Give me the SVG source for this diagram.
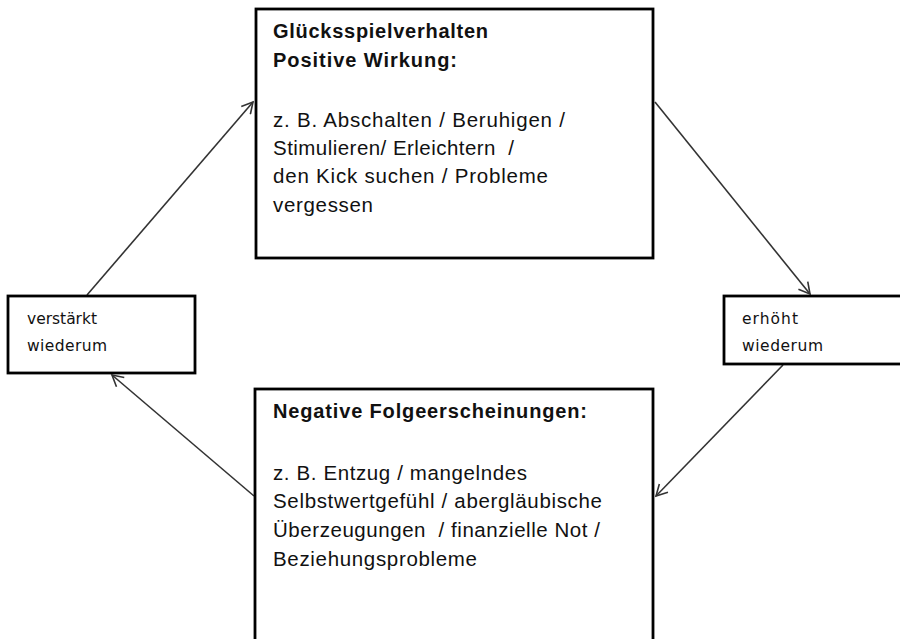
<svg xmlns="http://www.w3.org/2000/svg" width="900" height="639" viewBox="0 0 900 639">
<style>
.box{fill:#fff;stroke:#000;stroke-width:2.8}
.t{font-family:"Liberation Sans",Arial,sans-serif;font-size:20.5px;fill:#111}
.b{font-weight:bold;font-size:20px}
.s{font-family:"DejaVu Sans",Tahoma,sans-serif;font-size:15.5px;fill:#111}
.c{stroke:#333;stroke-width:1.6;fill:none;marker-end:url(#arr)}
</style>
<defs>
<marker id="arr" markerUnits="userSpaceOnUse" markerWidth="14" markerHeight="14" refX="12" refY="7" orient="auto">
<path d="M1,1 L12,7 L1,13" fill="none" stroke="#333" stroke-width="1.6"/>
</marker>
</defs>
<rect width="900" height="639" fill="#fff"/>
<g id="connectors">
<line class="c" x1="87" y1="295" x2="253" y2="102"/>
<line class="c" x1="655" y1="102" x2="810" y2="294"/>
<line class="c" x1="783" y1="365" x2="656" y2="496"/>
<line class="c" x1="254" y1="496" x2="112" y2="375"/>
</g>
<g id="top">
<rect class="box" x="256" y="9" width="397" height="249"/>
<text class="t b" x="273" y="38" textLength="215" lengthAdjust="spacing">Glücksspielverhalten</text>
<text class="t b" x="273" y="67" textLength="184" lengthAdjust="spacing">Positive Wirkung:</text>
<text class="t" x="273" y="127" textLength="292" lengthAdjust="spacing">z. B. Abschalten / Beruhigen /</text>
<text class="t" x="273" y="155" textLength="241" lengthAdjust="spacing" xml:space="preserve">Stimulieren/ Erleichtern  /</text>
<text class="t" x="273" y="183" textLength="275" lengthAdjust="spacing">den Kick suchen / Probleme</text>
<text class="t" x="273" y="212" textLength="100" lengthAdjust="spacing">vergessen</text>
</g>
<g id="left">
<rect class="box" x="8" y="296" width="187" height="77"/>
<text class="s" x="27" y="324" textLength="70" lengthAdjust="spacing">verstärkt</text>
<text class="s" x="27" y="351" textLength="80" lengthAdjust="spacing">wiederum</text>
</g>
<g id="right">
<rect class="box" x="724" y="296" width="180" height="68"/>
<text class="s" x="742" y="324" textLength="56" lengthAdjust="spacing">erhöht</text>
<text class="s" x="742" y="351" textLength="81" lengthAdjust="spacing">wiederum</text>
</g>
<g id="bottom">
<rect class="box" x="255" y="389" width="398" height="252"/>
<text class="t b" x="273" y="418" textLength="314" lengthAdjust="spacing">Negative Folgeerscheinungen:</text>
<text class="t" x="273" y="480" textLength="254" lengthAdjust="spacing">z. B. Entzug / mangelndes</text>
<text class="t" x="273" y="508" textLength="329" lengthAdjust="spacing">Selbstwertgefühl / abergläubische</text>
<text class="t" x="273" y="537" textLength="327" lengthAdjust="spacing" xml:space="preserve">Überzeugungen  / finanzielle Not /</text>
<text class="t" x="273" y="566" textLength="204" lengthAdjust="spacing">Beziehungsprobleme</text>
</g>
</svg>
